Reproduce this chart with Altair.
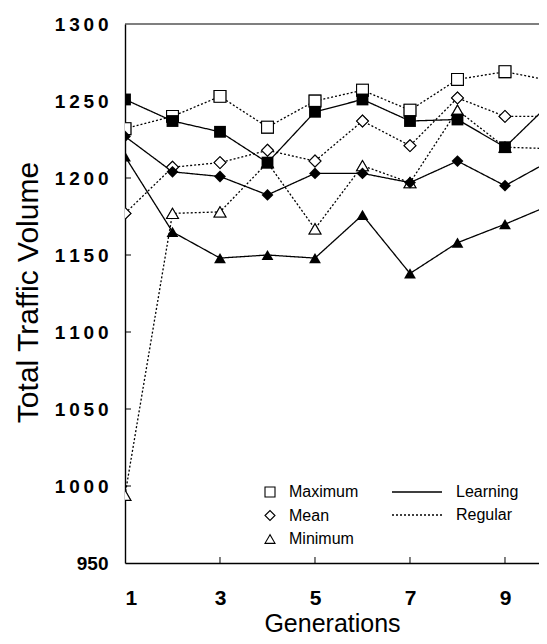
import altair as alt
import pandas as pd

generations = [1, 2, 3, 4, 5, 6, 7, 8, 9, 10]
max_learning = [1251, 1237, 1230, 1210, 1243, 1251, 1237, 1238, 1220, 1250]
max_regular = [1232, 1240, 1253, 1233, 1250, 1257, 1244, 1264, 1269, 1263]
mean_learning = [1227, 1204, 1201, 1189, 1203, 1203, 1197, 1211, 1195, 1212]
mean_regular = [1177, 1207, 1210, 1218, 1211, 1237, 1221, 1252, 1240, 1240]
min_learning = [1214, 1165, 1148, 1150, 1148, 1176, 1138, 1158, 1170, 1183]
min_regular = [994, 1177, 1178, 1210, 1167, 1208, 1197, 1244, 1220, 1219]

stats = ["Maximum", "Mean", "Minimum"]
types = ["Learning", "Regular"]
y_ticks = [950, 1000, 1050, 1100, 1150, 1200, 1250, 1300]
x_ticks = [1, 3, 5, 7, 9]

series = [
    ("Maximum", "Learning", max_learning),
    ("Maximum", "Regular", max_regular),
    ("Mean", "Learning", mean_learning),
    ("Mean", "Regular", mean_regular),
    ("Minimum", "Learning", min_learning),
    ("Minimum", "Regular", min_regular),
]
rows = []
for stat, typ, vals in series:
    for g, v in zip(generations, vals):
        rows.append({"gen": g, "stat": stat, "type": typ, "value": v})
df = pd.DataFrame(rows)

FONT = "Liberation Sans"
W, H = 414, 539
X_MAX = 9.716

xscale = alt.Scale(domain=[1, X_MAX], nice=False, zero=False)
yscale = alt.Scale(domain=[950, 1300], nice=False, zero=False)

x_axis = alt.Axis(
    values=x_ticks, format="d", title="Generations", ticks=False, grid=False,
    labelFont=FONT, labelFontSize=21, labelFontWeight="bold", labelColor="black",
    labelPadding=24, domainColor="black", domainWidth=1.3,
    titleFont=FONT, titleFontSize=25, titleFontWeight="normal", titleColor="black",
    titleBaseline="alphabetic", titleY=68,
)
y_axis = alt.Axis(
    values=y_ticks, format="d", title="Total Traffic Volume", ticks=False, grid=False,
    labelFont=FONT, labelFontSize=19, labelFontWeight="bold", labelColor="black",
    labelPadding=17, domainColor="black", domainWidth=1.4,
    labelExpr="datum.value == 950 ? datum.label : join(split(datum.label, ''), '\u2009')",
    titleFont=FONT, titleFontSize=30, titleFontWeight="normal", titleColor="black",
    titleAngle=270, titleAlign="center", titleBaseline="middle",
    titleX=-97, titleY=268,
)

x_enc = alt.X("gen:Q", scale=xscale, axis=x_axis)
y_enc = alt.Y("value:Q", scale=yscale, axis=y_axis)

shape_scale = alt.Scale(domain=stats, range=["square", "diamond", "triangle-up"])
shape_legend = alt.Legend(
    title=None, orient="none", legendX=137, legendY=460, padding=0,
    symbolSize=100, symbolStrokeWidth=1.1, symbolOpacity=1,
    labelFont=FONT, labelFontSize=16, labelColor="black",
    labelOffset=11, rowPadding=7.5, labelLimit=300,
)
dash_legend = alt.Legend(
    title=None, orient="none", legendX=266, legendY=460, padding=0,
    symbolType="stroke", symbolSize=2500, clipHeight=16,
    symbolStrokeColor="black", symbolStrokeWidth=1.4,
    labelFont=FONT, labelFontSize=16, labelColor="black",
    labelOffset=13, rowPadding=7, labelLimit=300,
)

base = alt.Chart(df)
regular = base.transform_filter(alt.datum.type == "Regular")
learning = base.transform_filter(alt.datum.type == "Learning")

lines = base.mark_line(color="black", strokeWidth=1.3, clip=True).encode(
    x=x_enc, y=y_enc,
    detail="stat:N",
    strokeDash=alt.StrokeDash(
        "type:N",
        scale=alt.Scale(domain=types, range=[[1, 0], [2, 2]]),
        legend=dash_legend,
    ),
    order="gen:Q",
)

# outline layer (also carries the marker legend)
pts_outline = regular.mark_point(
    filled=False, color="black", strokeWidth=1.1, size=140, clip=True,
).encode(
    x=x_enc, y=y_enc,
    shape=alt.Shape("stat:N", scale=shape_scale, legend=shape_legend),
)

pts_regular = regular.mark_point(
    filled=False, fill="white", fillOpacity=1, stroke="black", strokeWidth=1.1,
    size=140, opacity=1, clip=True,
).encode(
    x=x_enc, y=y_enc,
    shape=alt.Shape("stat:N", scale=shape_scale, legend=None),
)

pts_learning = learning.mark_point(
    filled=True, color="black", fillOpacity=1, strokeWidth=1,
    size=140, opacity=1, clip=True,
).encode(
    x=x_enc, y=y_enc,
    shape=alt.Shape("stat:N", scale=shape_scale, legend=None),
)

top_border = alt.Chart(pd.DataFrame({"v": [y_ticks[-1]]})).mark_rule(
    color="black", strokeWidth=1.2
).encode(
    y=alt.Y("v:Q", scale=yscale), x=alt.value(0), x2=alt.value(W)
)

ytick_marks = alt.Chart(pd.DataFrame({"v": y_ticks[1:-1]})).mark_rule(
    color="black", strokeWidth=1
).encode(
    y=alt.Y("v:Q", scale=yscale), x=alt.value(0), x2=alt.value(6)
)

xtick_marks = alt.Chart(pd.DataFrame({"g": x_ticks[1:]})).mark_rule(
    color="black", strokeWidth=1
).encode(
    x=alt.X("g:Q", scale=xscale), y=alt.value(H), y2=alt.value(H - 6)
)

chart = alt.layer(
    lines, pts_outline, pts_regular, pts_learning, top_border, ytick_marks, xtick_marks
).properties(
    width=W, height=H,
    autosize=alt.AutoSizeParams(type="none"),
    padding={"left": 117, "top": 16, "right": 0, "bottom": 73},
    background="white",
).configure_view(stroke=None)

chart.save("out.html", embed_options={"renderer": "svg", "actions": False})
